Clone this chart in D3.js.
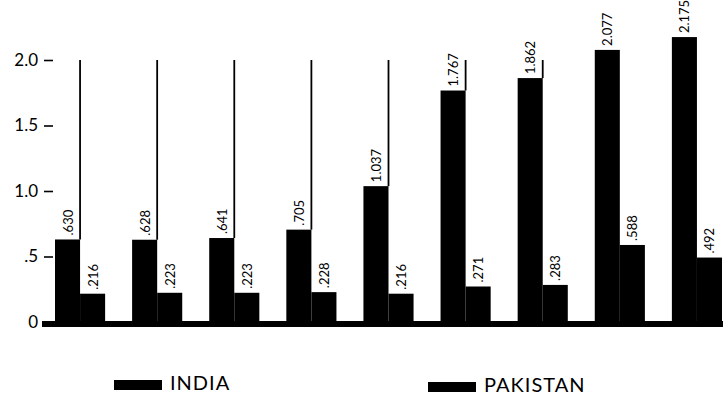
<!DOCTYPE html>
<html>
<head>
<script src="https://d3js.org/d3.v7.min.js"></script>
<style>
  body { margin: 0; background: #fff; }
  text { font-family: Lato, "Open Sans", sans-serif; fill: #000; }
</style>
</head>
<body>
<svg id="chart" width="723" height="400"></svg>
<script>
// data
const groups = ["g1", "g2", "g3", "g4", "g5", "g6", "g7", "g8", "g9"];
const india = [0.630, 0.628, 0.641, 0.705, 1.037, 1.767, 1.862, 2.077, 2.175];
const indiaLabels = [".630", ".628", ".641", ".705", "1.037", "1.767", "1.862", "2.077", "2.175"];
const pakistan = [0.216, 0.223, 0.223, 0.228, 0.216, 0.271, 0.283, 0.588, 0.492];
const pakistanLabels = [".216", ".223", ".223", ".228", ".216", ".271", ".283", ".588", ".492"];
const yTicks = [0, 0.5, 1.0, 1.5, 2.0];
const yTickLabels = ["0", ".5", "1.0", "1.5", "2.0"];
const seriesNames = ["INDIA", "PAKISTAN"];

const svg = d3.select("#chart");

const x = d3.scaleBand().domain(groups).range([55, 722]).paddingInner(0.35).paddingOuter(0);
const sub = d3.scaleBand().domain(seriesNames).range([0, x.bandwidth()]);
const y = d3.scaleLinear().domain([0, 2]).range([322, 60]);

// y axis: tick labels and short dashes, no spine
const yAxis = d3.axisLeft(y)
  .tickValues(yTicks)
  .tickFormat((d, i) => yTickLabels[i])
  .tickSize(9)
  .tickPadding(6);
const ya = svg.append("g").attr("transform", "translate(53,0)").call(yAxis);
ya.select(".domain").remove();
ya.selectAll(".tick line").attr("stroke", "#000").attr("stroke-width", 1.6);
ya.selectAll(".tick text").style("font-size", "17px").style("font-family", "Lato, sans-serif").attr("fill", "#000");

// guide lines rising from the right edge of the India bars
svg.append("g").selectAll("line")
  .data(india.map((v, i) => ({ v, g: groups[i] })).filter(d => d.v < 2))
  .join("line")
  .attr("x1", d => x(d.g) + sub("PAKISTAN"))
  .attr("x2", d => x(d.g) + sub("PAKISTAN"))
  .attr("y1", d => y(d.v))
  .attr("y2", y(2))
  .attr("stroke", "#000")
  .attr("stroke-width", 1.8);

// baseline band
svg.append("rect")
  .attr("x", 42).attr("y", y(0) - 1)
  .attr("width", 723 - 42).attr("height", 6)
  .attr("fill", "#000");

// bars
const series = [
  { name: "INDIA", values: india, labels: indiaLabels },
  { name: "PAKISTAN", values: pakistan, labels: pakistanLabels }
];

series.forEach(s => {
  svg.append("g").selectAll("rect")
    .data(s.values)
    .join("rect")
    .attr("x", (d, i) => x(groups[i]) + sub(s.name))
    .attr("y", d => y(d))
    .attr("width", sub.bandwidth())
    .attr("height", d => y(0) - y(d))
    .attr("fill", "#000");

  svg.append("g").selectAll("text")
    .data(s.values)
    .join("text")
    .attr("transform", (d, i) =>
      "translate(" + (x(groups[i]) + sub(s.name) + sub.bandwidth() / 2 + 5) + "," + (y(d) - 4) + ") rotate(-90)")
    .attr("text-anchor", "start")
    .style("font-size", "13px")
    .text((d, i) => s.labels[i]);
});

// legend
const legend = [
  { name: "INDIA", x: 114, y: 380 },
  { name: "PAKISTAN", x: 428, y: 382 }
];
legend.forEach(l => {
  svg.append("rect")
    .attr("x", l.x).attr("y", l.y)
    .attr("width", 48).attr("height", 10)
    .attr("fill", "#000");
  svg.append("text")
    .attr("x", l.x + 56).attr("y", l.y + 10)
    .style("font-size", "20px")
    .style("letter-spacing", "1px")
    .text(l.name);
});
</script>
</body>
</html>
